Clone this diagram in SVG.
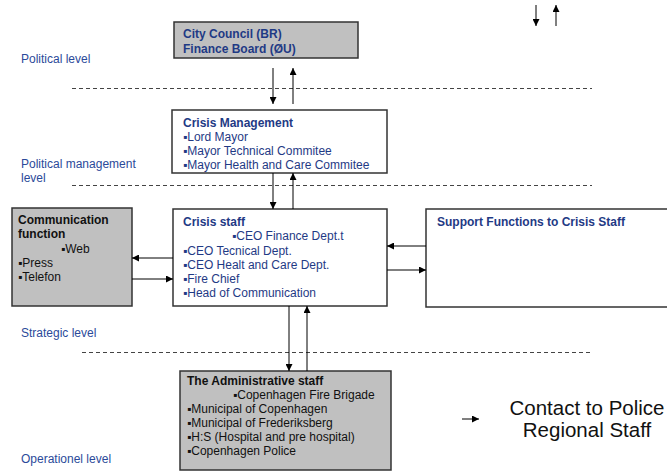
<svg xmlns="http://www.w3.org/2000/svg" width="667" height="471" viewBox="0 0 667 471">
<defs>
<marker id="ah" viewBox="0 0 10 10" refX="10" refY="5" markerWidth="7" markerHeight="7" markerUnits="userSpaceOnUse" orient="auto"><path d="M0,0 L10,5 L0,10 z" fill="#000"/></marker>
<style>
.box{stroke:#333;stroke-width:1.5}
.gray{fill:#c0c0c0}
.white{fill:#fff}
.t{font-family:"Liberation Sans",Arial,sans-serif;font-size:12px;fill:#1f3a85}
.b{font-weight:bold}
.k{fill:#111}
.lvl{font-family:"Liberation Sans",Arial,sans-serif;font-size:12px;fill:#2b4a9a}
.dash{stroke:#444;stroke-width:1;stroke-dasharray:4 3;fill:none}
.c{stroke:#000;stroke-width:1;fill:none;marker-end:url(#ah)}
.big{font-family:"Liberation Sans",Arial,sans-serif;font-size:20.5px;fill:#111;text-anchor:middle}
</style>
</defs>
<rect width="667" height="471" fill="#fff"/>
<g id="levels">
<text class="lvl" x="21" y="63">Political level</text>
<text class="lvl" x="21" y="168">Political management</text>
<text class="lvl" x="21" y="182">level</text>
<text class="lvl" x="21" y="337">Strategic level</text>
<text class="lvl" x="21" y="463">Operationel level</text>
<line class="dash" x1="72" y1="88.5" x2="592" y2="88.5"/>
<line class="dash" x1="72" y1="185.5" x2="592" y2="185.5"/>
<line class="dash" x1="82" y1="352.5" x2="592" y2="352.5"/>
</g>
<g id="city-council">
<rect class="box gray" x="174" y="22" width="184" height="36"/>
<text class="t b" x="183" y="38">City Council (BR)</text>
<text class="t b" x="183" y="53">Finance Board (ØU)</text>
</g>
<g id="crisis-management">
<rect class="box white" x="172" y="110" width="215" height="63"/>
<text class="t b" x="183" y="127">Crisis Management</text>
<text class="t" x="183" y="141">▪Lord Mayor</text>
<text class="t" x="183" y="155">▪Mayor Technical Commitee</text>
<text class="t" x="183" y="169">▪Mayor Health and Care Commitee</text>
</g>
<g id="crisis-staff">
<rect class="box white" x="173" y="209" width="214" height="97"/>
<text class="t b" x="183" y="226">Crisis staff</text>
<text class="t" x="232" y="240">▪CEO Finance Dept.t</text>
<text class="t" x="183" y="255">▪CEO Tecnical Dept.</text>
<text class="t" x="183" y="269">▪CEO Healt and Care Dept.</text>
<text class="t" x="183" y="283">▪Fire Chief</text>
<text class="t" x="183" y="297">▪Head of Communication</text>
</g>
<g id="communication">
<rect class="box gray" x="12" y="208" width="120" height="98"/>
<text class="t b k" x="18" y="224">Communication</text>
<text class="t b k" x="18" y="238">function</text>
<text class="t k" x="61" y="253">▪Web</text>
<text class="t k" x="18" y="267">▪Press</text>
<text class="t k" x="18" y="281">▪Telefon</text>
</g>
<g id="support">
<rect class="box white" x="426" y="209" width="250" height="98"/>
<text class="t b" x="437" y="226">Support Functions to Crisis Staff</text>
</g>
<g id="administrative">
<rect class="box gray" x="180" y="371" width="211" height="99"/>
<text class="t b k" x="187" y="385">The Administrative staff</text>
<text class="t k" x="233" y="399">▪Copenhagen Fire Brigade</text>
<text class="t k" x="187" y="413">▪Municipal of Copenhagen</text>
<text class="t k" x="187" y="427">▪Municipal of Frederiksberg</text>
<text class="t k" x="187" y="441">▪H:S (Hospital and pre hospital)</text>
<text class="t k" x="187" y="455">▪Copenhagen Police</text>
</g>
<g id="contact-police">
<text class="big" x="587" y="415">Contact to Police</text>
<text class="big" x="587" y="437">Regional Staff</text>
</g>
<g id="connectors">
<line class="c" x1="273" y1="68" x2="273" y2="104"/>
<line class="c" x1="293" y1="104" x2="293" y2="68"/>
<line class="c" x1="273" y1="173" x2="273" y2="209"/>
<line class="c" x1="293" y1="209" x2="293" y2="173"/>
<line class="c" x1="426" y1="246" x2="387" y2="246"/>
<line class="c" x1="387" y1="270" x2="426" y2="270"/>
<line class="c" x1="173" y1="258" x2="132" y2="258"/>
<line class="c" x1="132" y1="279" x2="173" y2="279"/>
<line class="c" x1="289" y1="306" x2="289" y2="371"/>
<line class="c" x1="307" y1="371" x2="307" y2="306"/>
<line class="c" x1="462" y1="419" x2="479" y2="419"/>
<line class="c" x1="536" y1="5" x2="536" y2="26"/>
<line class="c" x1="556" y1="26" x2="556" y2="5"/>
</g>
</svg>
